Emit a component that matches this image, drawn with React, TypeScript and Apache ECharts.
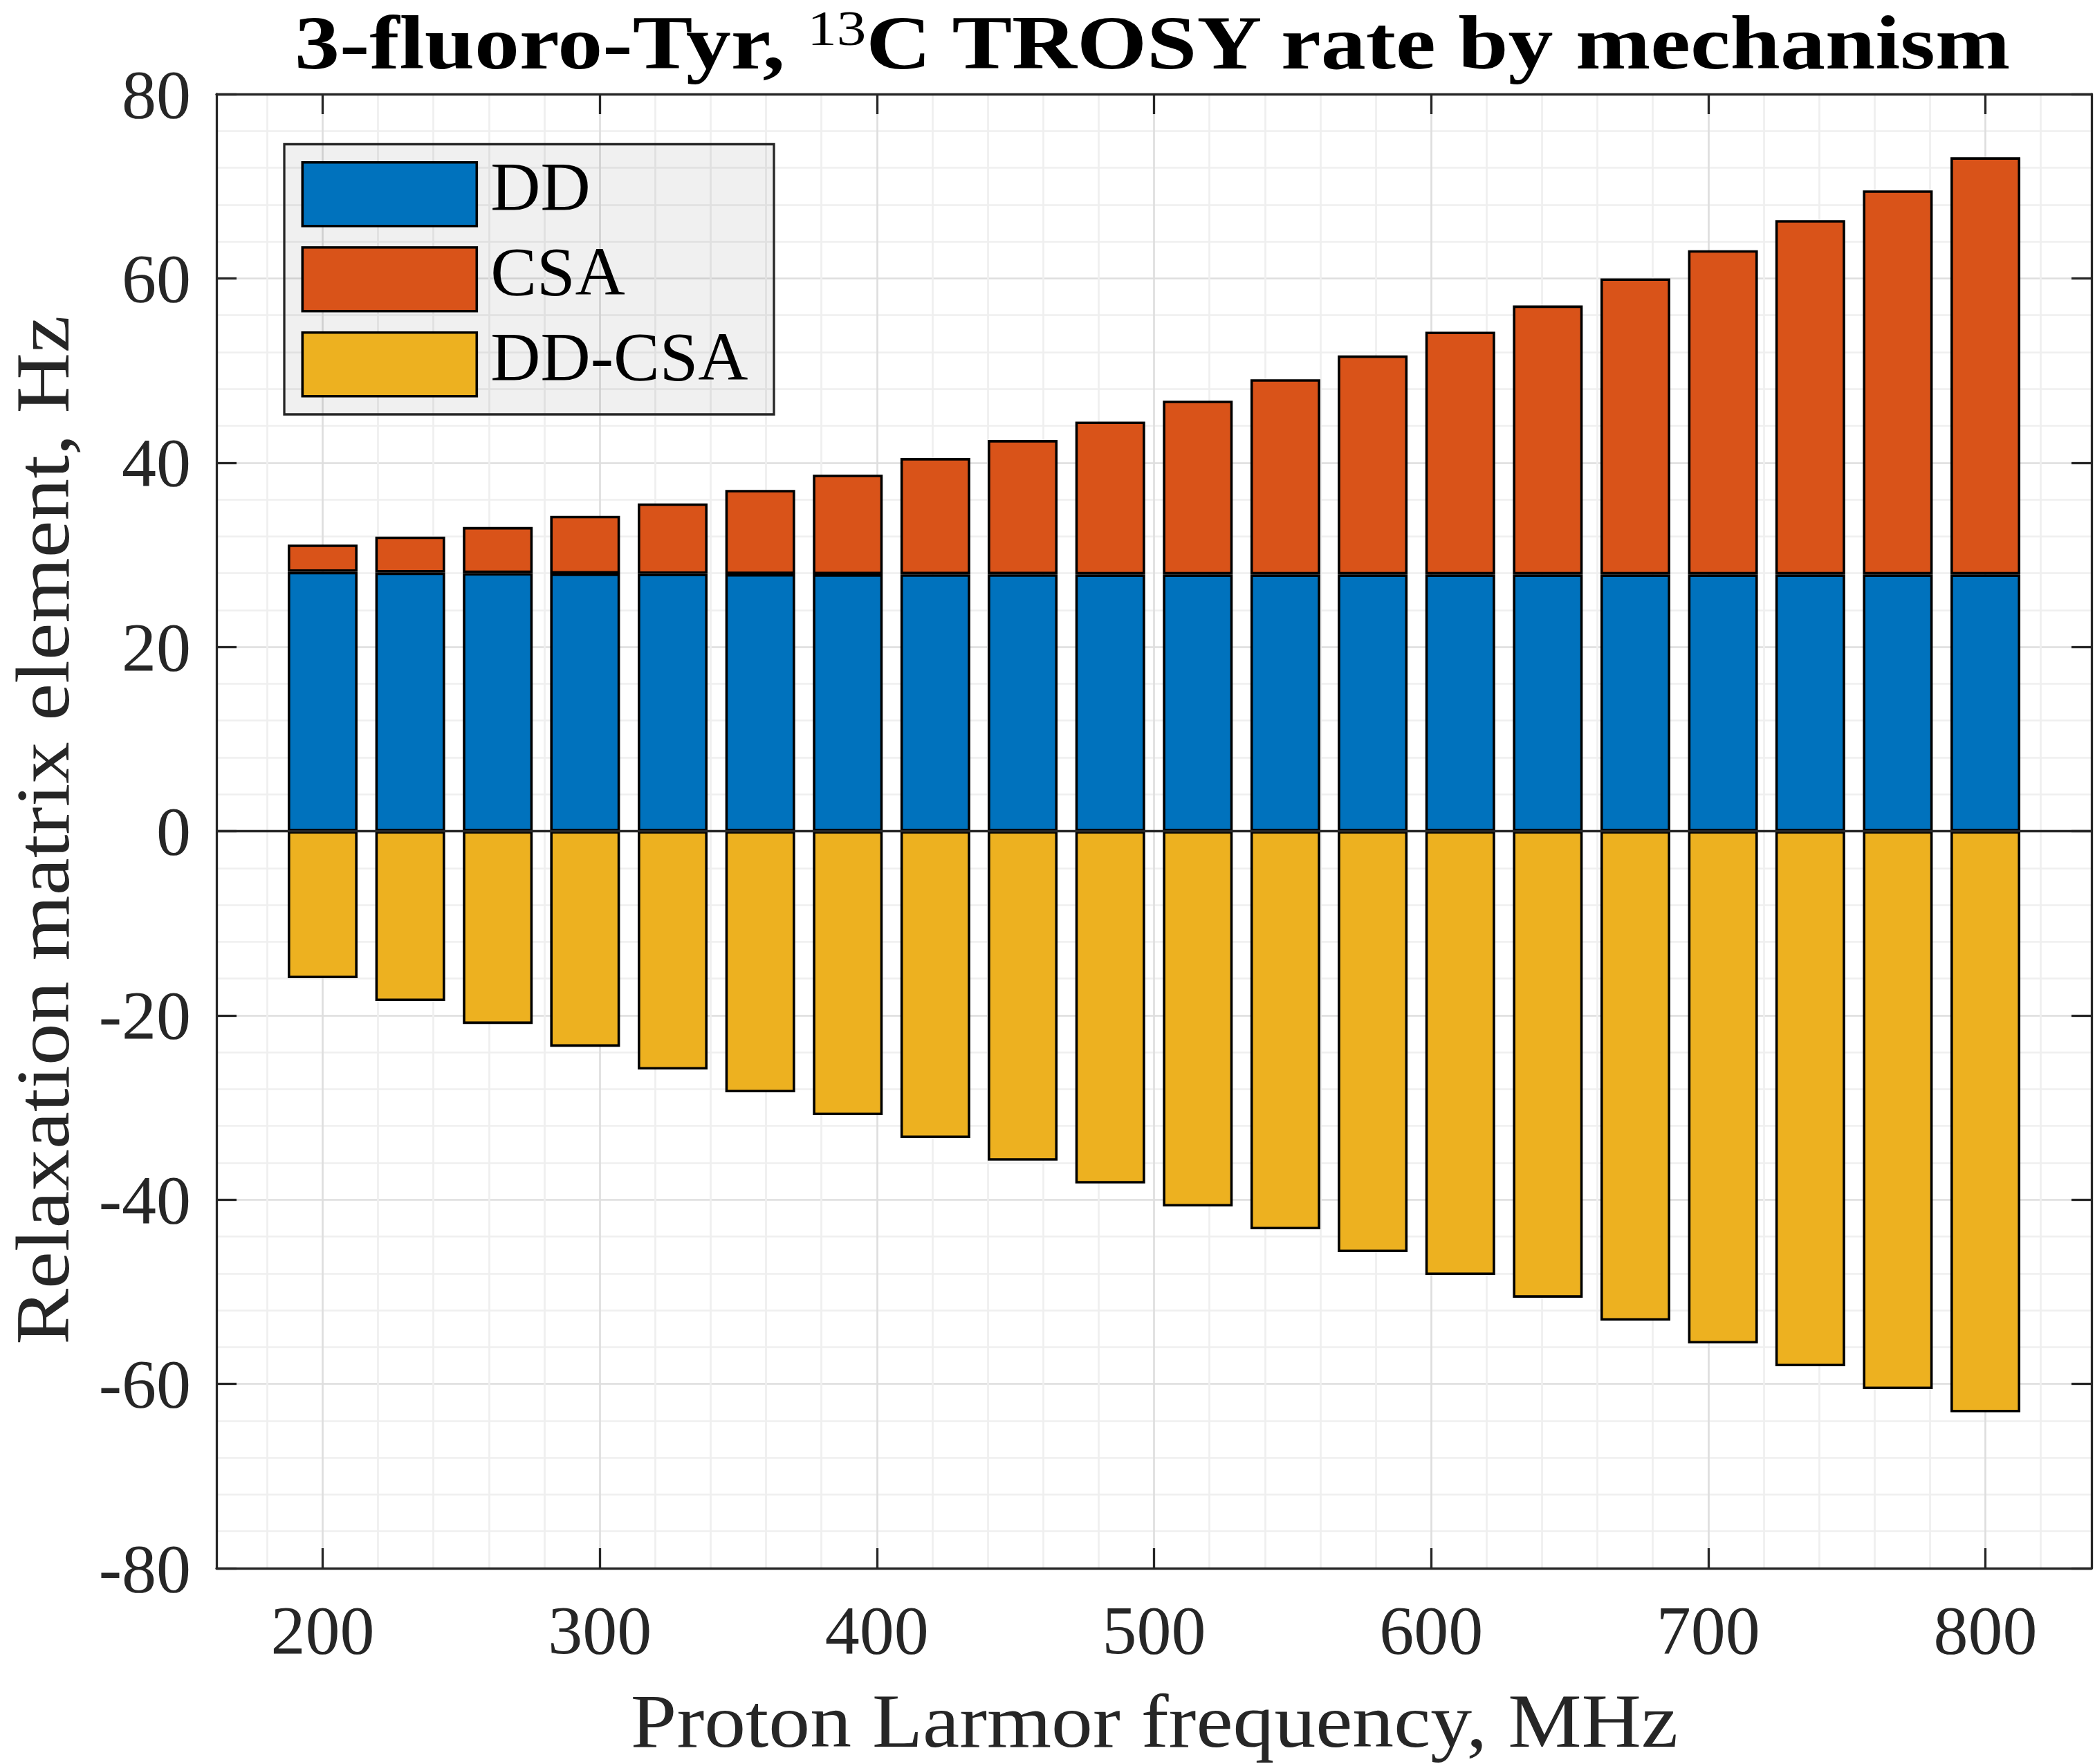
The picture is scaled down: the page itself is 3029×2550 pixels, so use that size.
import React, { useEffect, useRef } from "react";
import * as echarts from "echarts";

const WIDTH = 3029;
const HEIGHT = 2550;

// ---- data ----
const frequencies = [200, 231.6, 263.2, 294.7, 326.3, 357.9, 389.5, 421.1, 452.6, 484.2, 515.8, 547.4, 578.9, 610.5, 642.1, 673.7, 705.3, 736.8, 768.4, 800];
const ddValues = [28.15, 28.07, 28.01, 27.96, 27.93, 27.9, 27.89, 27.88, 27.88, 27.87, 27.87, 27.87, 27.87, 27.87, 27.87, 27.87, 27.87, 27.87, 27.87, 27.87];
const csaValues = [2.96, 3.9, 5.0, 6.26, 7.64, 9.14, 10.8, 12.62, 14.57, 16.58, 18.85, 21.18, 23.76, 26.34, 29.19, 32.13, 35.18, 38.45, 41.68, 45.27];
const ddCsaValues = [-15.96, -18.44, -20.92, -23.4, -25.87, -28.35, -30.83, -33.3, -35.76, -38.24, -40.74, -43.21, -45.69, -48.17, -50.64, -53.12, -55.6, -58.08, -60.56, -63.07];

const seriesNames = ["DD", "CSA", "DD-CSA"];
const seriesColors = ["#0072BD", "#D95319", "#EDB120"];

const xTicks = [200, 300, 400, 500, 600, 700, 800];
const xMinorTicks = [180, 220, 240, 260, 280, 320, 340, 360, 380, 420, 440, 460, 480, 520, 540, 560, 580, 620, 640, 660, 680, 720, 740, 760, 780, 820];
const xRange = [161.7, 838.3];
const yRange = [-80, 80];
const yStep = 20;
const yMinorSplit = 4;

const titleParts = ["3-fluoro-Tyr, ", "13", "C TROSY rate by mechanism"];
const xTitle = "Proton Larmor frequency, MHz";
const yTitle = "Relaxation matrix element, Hz";

// ---- styling ----
const FONT = '"Liberation Serif", "Times New Roman", serif';
const AXIS = "#262626";
const GRID_MAJOR = "#dedede";
const GRID_MINOR = "#efefef";
const AXIS_W = 3.3;
const GRID_W = 2.7;
const TICK_LEN = 29;
const BAR_BORDER = 3.6;

const GRID = { left: 313, top: 136, right: 5, bottom: 283 };

function textWidth(text: string, size: number, weight: string) {
  const ctx = document.createElement("canvas").getContext("2d")!;
  ctx.font = `${weight} ${size}px "Liberation Serif"`;
  return ctx.measureText(text).width;
}

const CENTRAL = 0.3375; // central-baseline offset (em) for Liberation Serif

export default function App() {
  const ref = useRef<HTMLDivElement>(null);

  useEffect(() => {
    if (!ref.current) return;
    const chart = echarts.init(ref.current, undefined, { renderer: "svg" });

    // title layout (scaled to the reference width)
    const tMain = 110;
    const tSup = 72;
    const w1 = textWidth(titleParts[0], tMain, "bold");
    const ws = textWidth(titleParts[1], tSup, "normal");
    const w2 = textWidth(titleParts[2], tMain, "bold");
    const titleLeft = 426;
    const titleTarget = 2487;
    const ts = titleTarget / (w1 + ws + w2);
    const titleBase = 99;
    const supBase = 65;

    const xtSize = 110;
    const xtScale = 1515 / textWidth(xTitle, xtSize, "normal");
    const ytScale = 1488 / textWidth(yTitle, xtSize, "normal");

    const mkText = (
      text: string,
      x: number,
      y: number,
      size: number,
      weight: string,
      align: string,
      scaleX: number,
      fill: string,
      rotation = 0
    ) => ({
      type: "text",
      x,
      y,
      scaleX,
      rotation,
      z: 10,
      silent: true,
      style: {
        text,
        fontFamily: "Liberation Serif",
        fontSize: size,
        fontWeight: weight,
        fill,
        align,
        textAlign: align,
        verticalAlign: "middle",
        textVerticalAlign: "middle",
      },
    });

    // data stored as [value, frequency] so the stacked dimension is the value one
    const bar = (name: string, values: number[], color: string, extra: any = {}) => ({
      name,
      type: "bar",
      stack: "total",
      stackStrategy: "samesign",
      barWidth: 101,
      encode: { x: 1, y: 0 },
      data: frequencies.map((f, i) => [values[i], f]),
      itemStyle: { color, borderColor: "#000", borderWidth: BAR_BORDER },
      emphasis: { disabled: true },
      ...extra,
    });

    const option: any = {
      animation: false,
      backgroundColor: "#ffffff",
      textStyle: { fontFamily: FONT },
      grid: { ...GRID, containLabel: false, outerBoundsMode: "none" },
      legend: {
        show: true,
        orient: "vertical",
        left: 435.5,
        top: 219.7,
        padding: 0,
        itemWidth: 252,
        itemHeight: 92,
        itemGap: 1,
        icon: "rect",
        selectedMode: false,
        z: 6,
        data: seriesNames,
        itemStyle: { borderColor: "#000", borderWidth: BAR_BORDER },
        formatter: (name: string) => `{n|${name}}`,
        textStyle: {
          fontFamily: FONT,
          fontSize: 100,
          color: "#000",
          rich: {
            n: {
              fontFamily: FONT,
              fontSize: 100,
              color: "#000",
              lineHeight: 50,
              padding: [0, 0, 22, 15],
            },
          },
        },
      },
      xAxis: [
        {
          type: "value",
          position: "bottom",
          min: xRange[0],
          max: xRange[1],
          axisLine: { show: true, onZero: false, lineStyle: { color: AXIS, width: AXIS_W } },
          axisTick: { show: true, inside: true, length: TICK_LEN, customValues: xTicks, lineStyle: { color: AXIS, width: AXIS_W } },
          axisLabel: {
            show: true,
            customValues: xTicks,
            margin: 39,
            fontFamily: FONT,
            fontSize: 100,
            lineHeight: 100,
            color: AXIS,
          },
          splitLine: { show: true, lineStyle: { color: GRID_MAJOR, width: GRID_W } },
          minorTick: { show: false },
          minorSplitLine: { show: false },
        },
        {
          type: "value",
          position: "top",
          min: xRange[0],
          max: xRange[1],
          axisLine: { show: true, onZero: false, lineStyle: { color: AXIS, width: AXIS_W } },
          axisTick: { show: true, inside: true, length: TICK_LEN, customValues: xTicks, lineStyle: { color: AXIS, width: AXIS_W } },
          axisLabel: { show: false },
          splitLine: { show: false },
        },
        {
          type: "value",
          position: "bottom",
          min: xRange[0],
          max: xRange[1],
          axisLine: { show: false, onZero: false },
          axisTick: { show: false, customValues: xMinorTicks },
          axisLabel: { show: false },
          splitLine: { show: true, lineStyle: { color: GRID_MINOR, width: GRID_W } },
        },
      ],
      yAxis: [
        {
          type: "value",
          position: "left",
          min: yRange[0],
          max: yRange[1],
          interval: yStep,
          axisLine: { show: true, onZero: false, lineStyle: { color: AXIS, width: AXIS_W } },
          axisTick: { show: true, inside: true, length: TICK_LEN, lineStyle: { color: AXIS, width: AXIS_W } },
          axisLabel: { show: true, margin: 37, fontFamily: FONT, fontSize: 100, lineHeight: 100, color: AXIS },
          splitLine: { show: true, lineStyle: { color: GRID_MAJOR, width: GRID_W } },
          minorTick: { show: false, splitNumber: yMinorSplit + 1 },
          minorSplitLine: { show: true, lineStyle: { color: GRID_MINOR, width: GRID_W } },
        },
        {
          type: "value",
          position: "right",
          min: yRange[0],
          max: yRange[1],
          interval: yStep,
          axisLine: { show: true, onZero: false, lineStyle: { color: AXIS, width: AXIS_W } },
          axisTick: { show: true, inside: true, length: TICK_LEN, lineStyle: { color: AXIS, width: AXIS_W } },
          axisLabel: { show: false },
          splitLine: { show: false },
        },
      ],
      series: [
        bar(seriesNames[0], ddValues, seriesColors[0], {
          markLine: {
            silent: true,
            symbol: ["none", "none"],
            label: { show: false },
            lineStyle: { color: AXIS, width: AXIS_W, type: "solid" },
            emphasis: { disabled: true },
            data: [{ yAxis: 0 }],
          },
        }),
        bar(seriesNames[1], csaValues, seriesColors[1]),
        bar(seriesNames[2], ddCsaValues, seriesColors[2]),
      ],
      graphic: {
        elements: [
          {
            type: "rect",
            z: 5,
            silent: true,
            shape: { x: 411, y: 208.5, width: 708, height: 390.5 },
            style: { fill: "rgba(0,0,0,0.059)", stroke: AXIS, lineWidth: AXIS_W },
          },
          mkText(titleParts[0], titleLeft, titleBase - CENTRAL * tMain, tMain, "bold", "left", ts, "#000"),
          mkText(titleParts[1], titleLeft + w1 * ts, supBase - CENTRAL * tSup, tSup, "normal", "left", ts, "#000"),
          mkText(titleParts[2], titleLeft + (w1 + ws) * ts, titleBase - CENTRAL * tMain, tMain, "bold", "left", ts, "#000"),
          mkText(xTitle, 1669, 2525 - CENTRAL * xtSize, xtSize, "normal", "center", xtScale, AXIS),
          mkText(yTitle, 62, 1200, xtSize, "normal", "center", ytScale, AXIS, Math.PI / 2),
        ],
      },
    };

    chart.setOption(option);
    return () => chart.dispose();
  }, []);

  return (
    <div
      ref={ref}
      style={{ position: "fixed", left: 0, top: 0, width: WIDTH, height: HEIGHT, background: "#fff" }}
    />
  );
}
